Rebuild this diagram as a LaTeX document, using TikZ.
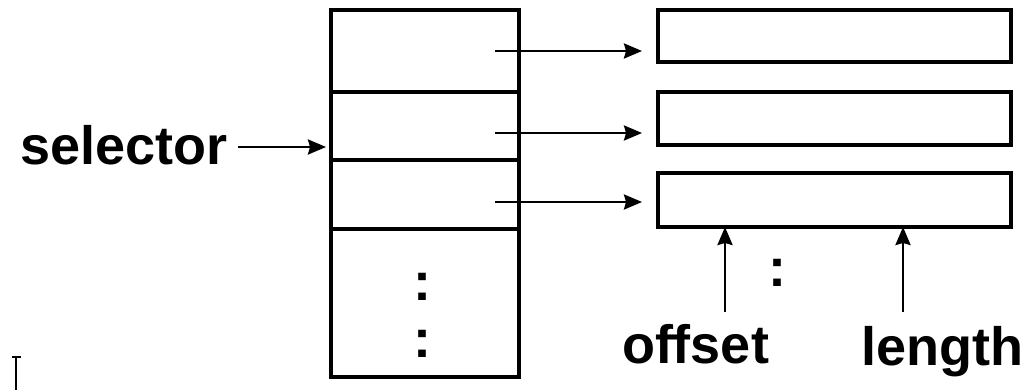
\documentclass[tikz,border=0pt]{standalone}
\usepackage{fontspec}
\setmainfont{Liberation Sans}
\usetikzlibrary{arrows.meta,calc}
\begin{document}
\begin{tikzpicture}[x=1pt,y=-1pt,
  box/.style={draw, line width=3.2pt, inner sep=0pt, outer sep=0pt, anchor=north west},
  arr/.style={line width=2.6pt, -{Stealth[length=18pt,width=15pt,inset=2pt]}},
  lab/.style={font=\bfseries\fontsize{54}{60}\selectfont, inner sep=0pt, outer sep=0pt}
]
\useasboundingbox (0,0) rectangle (1027,390);
% segment table
\node[box, minimum width=188pt, minimum height=82pt] (s1) at (331,10) {};
\node[box, minimum width=188pt, minimum height=68pt] (s2) at (331,92) {};
\node[box, minimum width=188pt, minimum height=69pt] (s3) at (331,160) {};
\node[box, minimum width=188pt, minimum height=148pt] (s4) at (331,229) {};
% segments
\node[box, minimum width=353pt, minimum height=52pt] (r1) at (658,10) {};
\node[box, minimum width=353pt, minimum height=53pt] (r2) at (658,92) {};
\node[box, minimum width=353pt, minimum height=54pt] (r3) at (658,173) {};
% labels
\node[lab, anchor=base west] (sel) at (20,165) {selector};
\node[lab, anchor=base west] (off) at (622,363) {offset};
\node[lab, anchor=base west] (len) at (861,365) {length};
\node[lab, anchor=base] (c1) at (422,300) {:};
\node[lab, anchor=base] (c2) at (422,357) {:};
\node[lab, anchor=base] (c3) at (777,286) {:};
% arrows
\coordinate (a1) at (495,51);
\coordinate (a2) at (495,133);
\coordinate (a3) at (495,202);
\draw[arr, shorten >=16pt] (a1) -- (a1 -| r1.west);
\draw[arr, shorten >=16pt] (a2) -- (a2 -| r2.west);
\draw[arr, shorten >=16pt] (a3) -- (a3 -| r3.west);
\coordinate (sa) at (238,147);
\draw[arr, shorten >=5pt] (sa) -- (sa -| s2.west);
\coordinate (oa) at (725,312);
\coordinate (la) at (903,312);
\draw[arr] (oa) -- (oa |- r3.south);
\draw[arr] (la) -- (la |- r3.south);
% cursor artifact
\draw[line width=2pt] (16,357) -- (16,390);
\draw[line width=1.2pt] (12,357) -- (21,357);
\end{tikzpicture}
\end{document}
